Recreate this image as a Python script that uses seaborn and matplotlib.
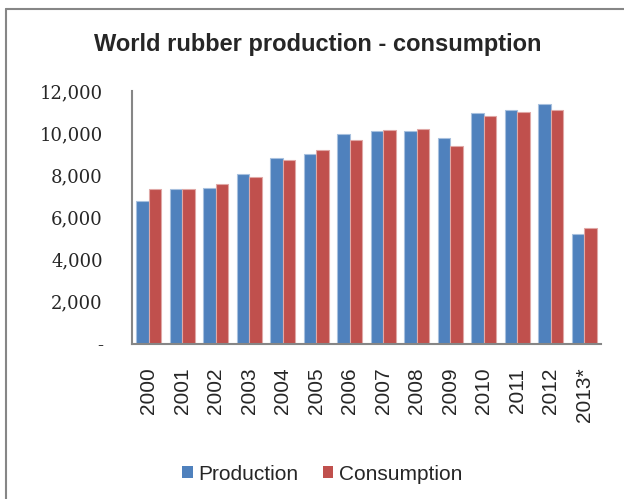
import matplotlib
matplotlib.use("Agg")
import matplotlib.pyplot as plt
from matplotlib.lines import Line2D
from matplotlib.patches import Patch
import seaborn as sns
import pandas as pd

years = ["2000", "2001", "2002", "2003", "2004", "2005", "2006",
         "2007", "2008", "2009", "2010", "2011", "2012", "2013*"]
production = [6780, 7350, 7400, 8080, 8810, 9000, 9950,
              10090, 10120, 9760, 10960, 11080, 11370, 5220]
consumption = [7350, 7350, 7590, 7920, 8730, 9200, 9680,
               10150, 10200, 9390, 10800, 11020, 11080, 5500]
series = ["Production", "Consumption"]
colors = ["#4F81BD", "#C0504D"]
edge_colors = ["#A7C0DE", "#E0A8A6"]
y_ticks = [0, 2000, 4000, 6000, 8000, 10000, 12000]
y_labels = ["-", "2,000", "4,000", "6,000", "8,000", "10,000", "12,000"]

df = pd.DataFrame({
    "Year": years * 2,
    "Value": production + consumption,
    "Series": [series[0]] * len(years) + [series[1]] * len(years),
})

sns.set_style("white")
plt.rcParams["font.family"] = ["Liberation Sans", "DejaVu Sans"]

fig = plt.figure(figsize=(6.24, 4.99), dpi=100)
ax = fig.add_axes([132 / 624, 1 - 344 / 499, (601 - 132) / 624, (344 - 91) / 499])

sns.barplot(data=df, x="Year", y="Value", hue="Series", order=years,
            hue_order=series, palette=colors, width=0.735, gap=0,
            saturation=1, ax=ax, legend=False)

# thin light outline on each bar
for container, ec in zip(ax.containers, edge_colors):
    for bar in container:
        bar.set_edgecolor(ec)
        bar.set_linewidth(0.8)

ax.set_xlim(-0.5, len(years) - 0.5)
ax.set_ylim(0, 12000)
ax.set_yticks(y_ticks)
ax.set_yticklabels(y_labels, fontfamily="DejaVu Serif", fontsize=13)
ax.tick_params(axis="y", length=0, pad=21)
ax.set_xticks(range(len(years)))
ax.set_xticklabels(years, rotation=90, fontsize=15)
ax.tick_params(axis="x", length=0, pad=17)
ax.set_xlabel("")
ax.set_ylabel("")

for side in ["top", "right"]:
    ax.spines[side].set_visible(False)
for side in ["left", "bottom"]:
    ax.spines[side].set_color("#868686")
    ax.spines[side].set_linewidth(1.5)

fig.text(318 / 624, 1 - 44 / 499, "World rubber production - consumption",
         ha="center", va="center", fontsize=17, fontweight="bold")

handles = [Patch(facecolor=c, edgecolor="none") for c in colors]
fig.legend(handles, series, loc="center", bbox_to_anchor=(322 / 624, 1 - 474 / 499),
           ncol=2, frameon=False, fontsize=15, handlelength=0.5, handleheight=0.5,
           handletextpad=0.25, columnspacing=1.2, borderaxespad=0)

# chart-area frame (left and top edges)
fig.add_artist(Line2D([6 / 624, 6 / 624], [0, 1 - 9 / 499], color="#868686",
                      linewidth=1.5, transform=fig.transFigure))
fig.add_artist(Line2D([6 / 624, 1], [1 - 9 / 499, 1 - 9 / 499], color="#868686",
                      linewidth=1.5, transform=fig.transFigure))

fig.savefig("out.png", dpi=100)
